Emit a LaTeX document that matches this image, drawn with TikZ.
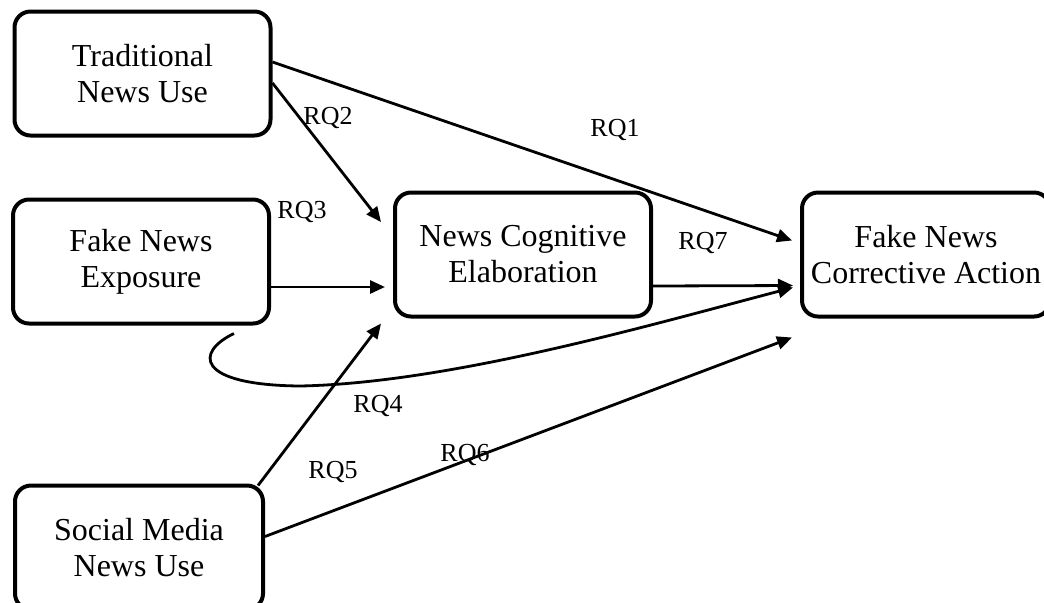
\documentclass[tikz,border=0pt]{standalone}
\usepackage{fontspec}
\setmainfont{Liberation Serif}
\usepackage{tikz}
\usetikzlibrary{positioning,arrows.meta}
\tikzset{
    box/.style ={
        shape=rectangle,
        rounded corners=8pt,
        draw=black,
        line width=2pt,
        align=center,
        minimum width=128pt,
        minimum height=62pt,
        font=\fontsize{16pt}{18pt}\selectfont
    },
    link/.style ={
        line width=1.4pt,
        -{Triangle[length=7.5pt,width=6.5pt]}
    },
    rq/.style ={
        font=\fontsize{13pt}{15pt}\selectfont,
        inner sep=0pt
    }
}

\begin{document}
\begin{tikzpicture}
    \useasboundingbox (0pt,0pt) rectangle (522pt,-301pt);
    \node[box] (trad) at (71.25pt,-36.75pt) {Traditional\\News Use};
    \node[box,below=30pt of trad,xshift=-0.75pt] (expo) {Fake News\\Exposure};
    \node[box,right=61pt of expo,yshift=3.5pt] (nce) {News Cognitive\\Elaboration};
    \node[box,right=73.5pt of nce,minimum width=124pt] (corr) {Fake News\\Corrective Action};
    \node[box,below=79pt of expo,xshift=-1pt,minimum width=124pt] (soc) {Social Media\\News Use};
    % paths
    \draw[link] ([yshift=5.75pt]trad.east) -- ([xshift=-4pt,yshift=7pt]corr.west);
    \draw[link] ([yshift=-4.75pt]trad.east) -- ([xshift=-6pt,yshift=16.25pt]nce.west);
    \draw[link] ([yshift=-12.75pt]expo.east) -- ([xshift=-4pt,yshift=-16.25pt]nce.west);
    \draw[link] ([yshift=-15.75pt]nce.east) -- ([xshift=-3.5pt,yshift=-15.5pt]corr.west);
    \draw[link] ([xshift=46.5pt,yshift=-4pt]expo.south)
        .. controls (97.5pt,-176pt) and (97.5pt,-192.5pt) .. (150pt,-193pt)
        .. controls (225pt,-191.5pt) and (325pt,-162.5pt) .. ([xshift=-3.5pt,yshift=-16.5pt]corr.west);
    \draw[link] ([xshift=-3.5pt,yshift=-1pt]soc.north east) -- ([xshift=-6pt,yshift=-2.5pt]nce.south west);
    \draw[link] ([yshift=5.5pt]soc.east) -- ([xshift=-4pt,yshift=-41.5pt]corr.west);
    % labels
    \node[rq] (rq1) at (307.5pt,-65pt) {RQ1};
    \node[rq] (rq2) at (164pt,-59pt) {RQ2};
    \node[rq] (rq3) at (151pt,-106pt) {RQ3};
    \node[rq] (rq4) at (189pt,-203pt) {RQ4};
    \node[rq] (rq5) at (166.5pt,-236pt) {RQ5};
    \node[rq] (rq6) at (232.5pt,-227.5pt) {RQ6};
    \node[rq] (rq7) at (351.5pt,-121.5pt) {RQ7};
\end{tikzpicture}
\end{document}
